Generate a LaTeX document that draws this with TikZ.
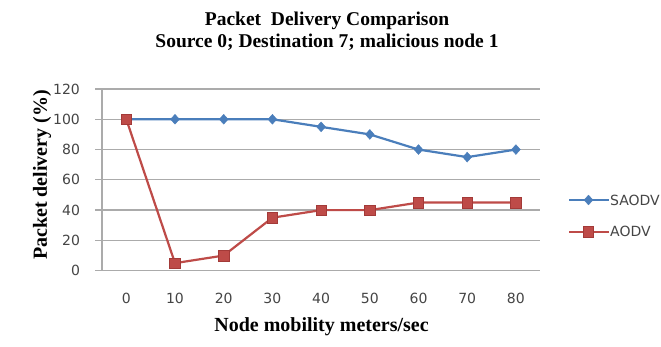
\documentclass[tikz,border=0pt]{standalone}
\usepackage{fontspec}
\setmainfont{Liberation Serif}
\newfontfamily\tickfont{DejaVu Sans}
\usetikzlibrary{shapes.geometric}
\definecolor{saodvblue}{HTML}{4A7EBB}
\definecolor{aodvred}{HTML}{BE4B48}
\definecolor{aodvedge}{HTML}{A33A38}
\definecolor{gridgrey}{HTML}{ABABAB}
\definecolor{ticktext}{HTML}{454545}
\tikzset{
  gridline/.style={draw=gridgrey, line width=1.3pt},
  seriesline/.style={line width=2.2pt, line join=round},
  bluemark/.style={diamond, fill=saodvblue, draw=saodvblue, inner sep=0pt, minimum width=9pt, minimum height=10pt},
  redmark/.style={rectangle, fill=aodvred, draw=aodvedge, line width=0.6pt, inner sep=0pt, minimum size=10.5pt},
  ticklabel/.style={font=\tickfont\fontsize{14}{15}\selectfont, text=ticktext},
  titletext/.style={font=\bfseries\fontsize{19.5}{20}\selectfont},
  axistitle/.style={font=\bfseries\fontsize{20}{22}\selectfont},
}
\begin{document}
\begin{tikzpicture}[x=1pt, y=1pt]
  \useasboundingbox (0,0) rectangle (661,347);
  \clip (0,0) rectangle (661,347);
  \fill[white] (0,0) rectangle (661,347);

  % titles
  \node[titletext] (title) at (327,326) {Packet\ \ Delivery Comparison};
  \node[titletext] (subtitle) at (327,305) {Source 0; Destination 7; malicious node 1};
  \node[axistitle] (xtitle) at (321.5,20) {Node mobility meters/sec};
  \node[axistitle, rotate=90] (ytitle) at (42,172) {Packet delivery (\%)};

  % plot area: one x unit per category, one y unit per percent
  \begin{scope}[shift={(126.3,76.3)}, x=48.7pt, y=1.5142pt]
    \foreach \v in {0,20,...,120} {
      \draw[gridline] (-0.64,\v) -- (8.5,\v);
      \node[ticklabel, anchor=east] (yt\v) at (-0.88,\v) {\v};
    }
    \draw[gridline] (-0.5,0) -- (-0.5,120);
    \foreach \i in {0,...,8} {
      \pgfmathtruncatemacro{\lab}{10*\i}
      \node[ticklabel] (xt\i) at (\i,-18.5) {\lab};
    }

    % data points
    \foreach \v [count=\i from 0] in {100,100,100,100,95,90,80,75,80}
      \coordinate (s\i) at (\i,\v);
    \foreach \v [count=\i from 0] in {100,5,10,35,40,40,45,45,45}
      \coordinate (a\i) at (\i,\v);

    \draw[seriesline, saodvblue] (s0) -- (s1) -- (s2) -- (s3) -- (s4) -- (s5) -- (s6) -- (s7) -- (s8);
    \foreach \i in {0,...,8} \node[bluemark] (sm\i) at (s\i) {};
    \draw[seriesline, aodvred] (a0) -- (a1) -- (a2) -- (a3) -- (a4) -- (a5) -- (a6) -- (a7) -- (a8);
    \foreach \i in {0,...,8} \node[redmark] (am\i) at (a\i) {};
  \end{scope}

  % legend
  \coordinate (lb1) at (569,147);
  \coordinate (lb2) at (609,147);
  \coordinate (lr1) at (569,115.3);
  \coordinate (lr2) at (609,115.3);
  \draw[seriesline, saodvblue] (lb1) -- (lb2);
  \node[bluemark] (lbm) at (588.5,147) {};
  \node[ticklabel, anchor=west, inner xsep=0pt] (lbt) at (610,147) {SAODV};
  \draw[seriesline, aodvred] (lr1) -- (lr2);
  \node[redmark] (lrm) at (588.5,115.3) {};
  \node[ticklabel, anchor=west, inner xsep=0pt] (lrt) at (610,115.3) {AODV};
\end{tikzpicture}
\end{document}
